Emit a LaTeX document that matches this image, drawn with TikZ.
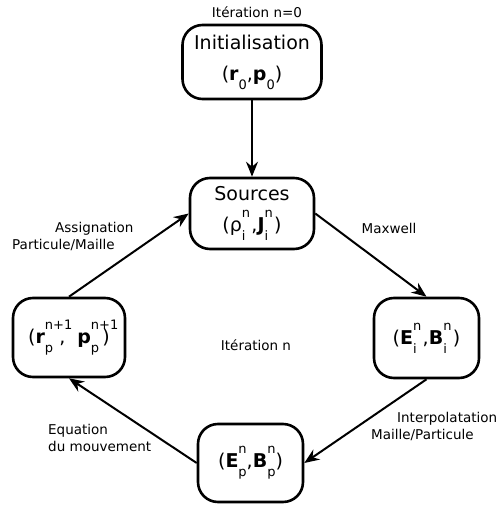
\documentclass[tikz,border=0pt]{standalone}
\usepackage{fontspec}
\setmainfont{DejaVu Sans}
\usetikzlibrary{arrows.meta}

% stacked exponent / index, as in the drawing
\newcommand{\ix}[2]{\rlap{\raisebox{1.35ex}{\fontsize{13}{13}\selectfont #1}}\raisebox{-0.85ex}{\fontsize{13}{13}\selectfont #2}}

\begin{document}
\begin{tikzpicture}[x=1pt,y=-1pt,
  box/.style={draw, line width=2.6pt, rounded corners=20pt, align=center,
    inner sep=0pt, font=\fontsize{19}{31}\selectfont},
  lab/.style={inner sep=0pt, align=left, font=\fontsize{13.5}{17}\selectfont},
  flow/.style={line width=2pt, -{Stealth[length=15pt,width=12pt,inset=5pt]}}]
\useasboundingbox (0,0) rectangle (496,508);

% Boxes
\node[box, minimum width=139pt, minimum height=74pt] (init) at (252,62)
  {Initialisation\\(\textbf{r}\ix{}{0},\textbf{p}\ix{}{0})};
\node[box, minimum width=124pt, minimum height=71pt] (src) at (252,213.5)
  {Sources\\(ρ\ix{n}{i} ,\textbf{J}\ix{n}{i} )};
\node[box, minimum width=112pt, minimum height=79pt] (left) at (69,337.5)
  {(\textbf{r}\ix{n+1}{p} ,\ \ \textbf{p}\ix{n+1}{p}\,)};
\node[box, minimum width=105pt, minimum height=80pt] (right) at (426.5,338)
  {(\textbf{E}\ix{n}{i} ,\textbf{B}\ix{n}{i} )};
\node[box, minimum width=105pt, minimum height=78pt] (bot) at (250.5,463)
  {(\textbf{E}\ix{n}{p},\textbf{B}\ix{n}{p})};

% Labels
\node[lab] (it0) at (257,12) {Itération n=0};
\node[lab] (itn) at (256,345) {Itération n};
\node[lab] (maxw) at (389,228) {Maxwell};
\node[lab, anchor=west] (assig) at (12,236.5) {\hspace{43pt}Assignation\\Particule/Maille};
\node[lab, anchor=west] (interp) at (371,426.5) {\hspace{26pt}Interpolatation\\Maille/Particule};
\node[lab, anchor=west] (equ) at (48,438) {Equation\\du mouvement};

% Cycle
\draw[flow] (init.south) -- (src.north);
\draw[flow] (src.east) -- (right.north);
\draw[flow] (right.south) -- (bot.east);
\draw[flow] (bot.west) -- (left.south);
\draw[flow] (left.north) -- (src.west);
\end{tikzpicture}
\end{document}
